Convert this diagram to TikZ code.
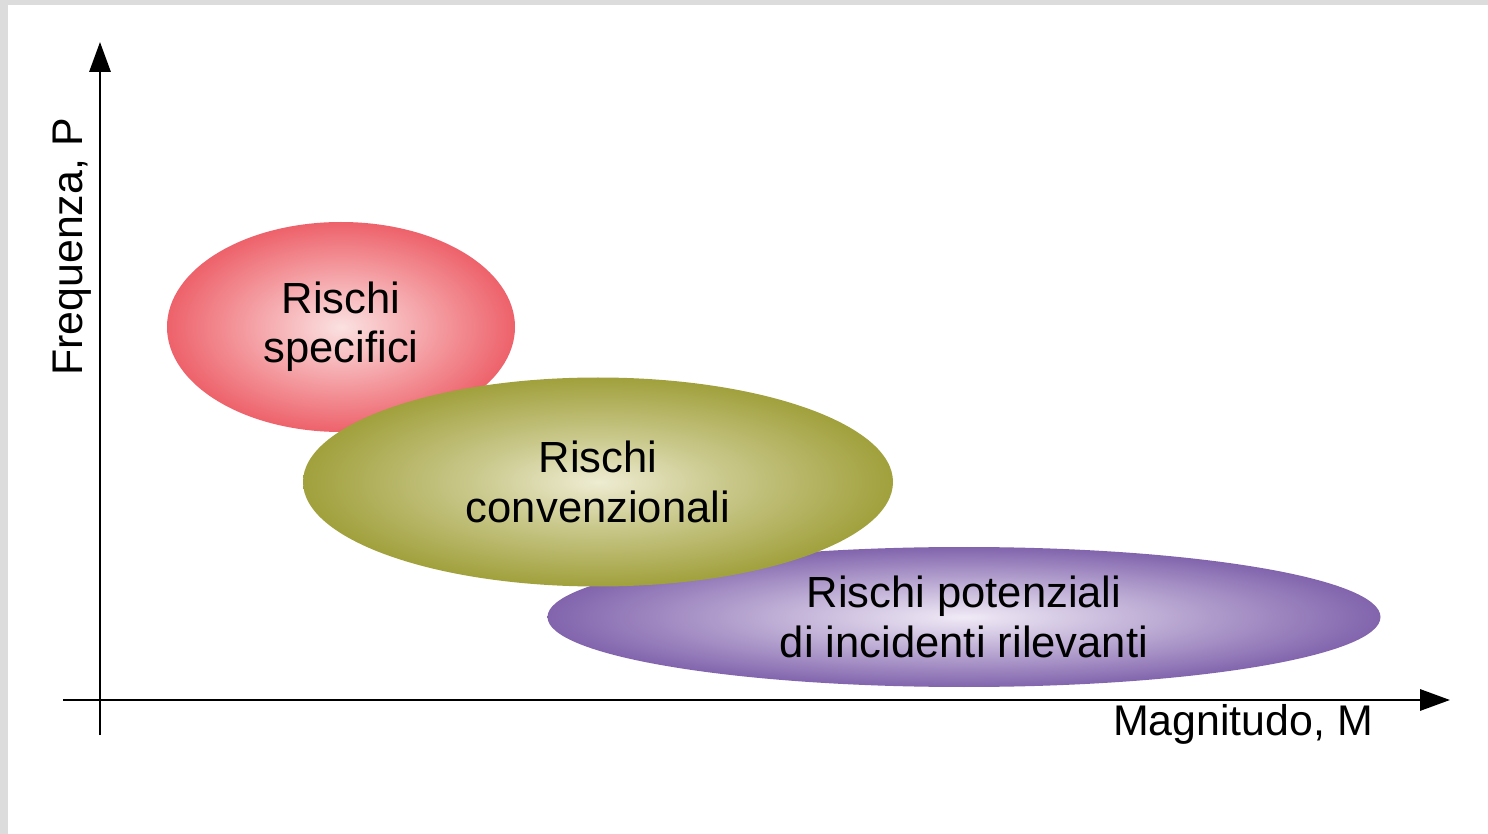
\documentclass[tikz,border=0pt]{standalone}
\usepackage{fontspec}
\setmainfont{Liberation Sans}
\usetikzlibrary{shapes.geometric, arrows.meta, positioning}
\definecolor{framegray}{RGB}{220, 220, 220}
\definecolor{redin}{RGB}{251, 225, 225}
\definecolor{redout}{RGB}{236, 82, 92}
\definecolor{olivein}{RGB}{238, 236, 210}
\definecolor{oliveout}{RGB}{152, 152, 44}
\definecolor{purplein}{RGB}{240, 234, 246}
\definecolor{purpleout}{RGB}{116, 84, 164}
\pgfdeclareradialshading{redglow}{\pgfpoint{0bp}{0bp}}{color(0bp)=(redin); color(10bp)=(redin!65!redout); color(28bp)=(redout); color(70bp)=(redout)}
\pgfdeclareradialshading{oliveglow}{\pgfpoint{0bp}{0bp}}{color(0bp)=(olivein); color(10bp)=(olivein!60!oliveout); color(28bp)=(oliveout); color(70bp)=(oliveout)}
\pgfdeclareradialshading{purpleglow}{\pgfpoint{0bp}{0bp}}{color(0bp)=(purplein); color(10bp)=(purplein!65!purpleout); color(28bp)=(purpleout); color(70bp)=(purpleout)}

\begin{document}
\begin{tikzpicture}[x=0.1mm, y=-0.1mm,
  risk/.style={ellipse, inner sep=0pt, align=center, font=\fontsize{12.4}{14}\selectfont},
  axis/.style={line width=0.75pt, -{Triangle[length=8.5pt, width=6pt]}}]
  \useasboundingbox (0,0) rectangle (1488,834);
  \fill[white] (0,0) rectangle (1488,834);
  \fill[framegray] (0,0) rectangle (1488,5);
  \fill[framegray] (0,0) rectangle (8,834);

  % assi
  \coordinate (ybot) at (100,735);
  \coordinate (ytop) at (100,42);
  \coordinate (xleft) at (63,700);
  \coordinate (xright) at (1450,700);
  \draw[axis] (ybot) -- (ytop);
  \draw[axis] (xleft) -- (xright);
  \node[rotate=90, font=\fontsize{12.2}{14}\selectfont] (freq) at (72,247) {Frequenza, P};
  \node[font=\fontsize{12.2}{14}\selectfont] (magn) at (1243,724) {Magnitudo, M};

  % aree di rischio
  \node[risk, shading=redglow, minimum width=3.48cm, minimum height=2.1cm] (specifici) at (341,327) {Rischi\\specifici};
  \node[risk, shading=purpleglow, minimum width=8.33cm, minimum height=1.4cm] (potenziali) at (964,617) {Rischi potenziali\\di incidenti rilevanti};
  \node[risk, shading=oliveglow, minimum width=5.9cm, minimum height=2.09cm] (convenzionali) at (598,482) {Rischi\\convenzionali};
\end{tikzpicture}
\end{document}
